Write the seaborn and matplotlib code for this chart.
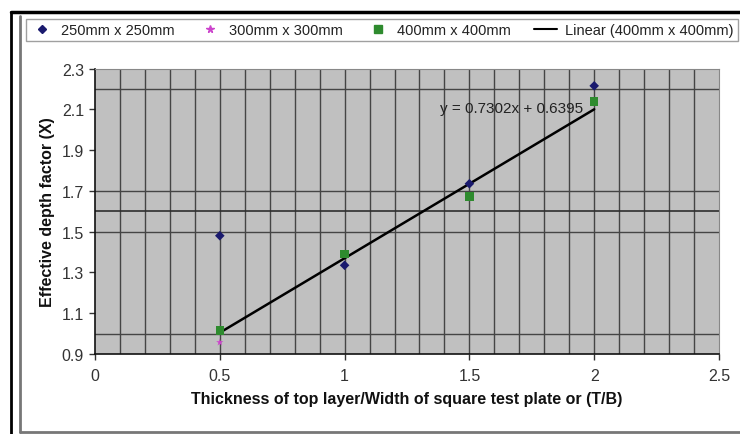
import matplotlib
matplotlib.use("Agg")
import matplotlib.pyplot as plt
from matplotlib.lines import Line2D
import seaborn as sns
import pandas as pd

# Thickness ratio T/B
x_250 = [0.5, 1.0, 1.5, 2.0]
y_250 = [1.48, 1.335, 1.735, 2.215]
x_300 = [0.5]
y_300 = [0.957]
x_400 = [0.5, 1.0, 1.5, 2.0]
y_400 = [1.015, 1.39, 1.672, 2.138]

# Linear trend for 400mm x 400mm plate
slope = 0.7302
intercept = 0.6395
fit_x = [0.5, 2.0]

series_labels = ["250mm x 250mm", "300mm x 300mm", "400mm x 400mm",
                 "Linear (400mm x 400mm)"]
x_ticks = [0, 0.5, 1, 1.5, 2, 2.5]
x_tick_labels = ["0", "0.5", "1", "1.5", "2", "2.5"]
y_ticks = [0.9, 1.1, 1.3, 1.5, 1.7, 1.9, 2.1, 2.3]
y_tick_labels = ["0.9", "1.1", "1.3", "1.5", "1.7", "1.9", "2.1", "2.3"]
h_grid = [1.0, 1.5, 1.6, 1.7, 2.2]
v_grid = [i / 10 for i in range(1, 25)]

sns.set_theme(style="white")
plt.rcParams["font.family"] = ["Liberation Sans", "DejaVu Sans"]

fig = plt.figure(figsize=(7.4, 4.35), dpi=100)
W, H = 740, 435
ax = fig.add_axes([95 / W, 1 - 355 / H, (719 - 95) / W, (355 - 69.5) / H])
ax.set_facecolor("#c0c0c0")

for gx in v_grid:
    ax.axvline(gx, color="#454545", lw=1.0, zorder=1)
for gy in h_grid:
    ax.axhline(gy, color="#2e2e2e" if gy == 1.6 else "#454545",
               lw=1.2 if gy == 1.6 else 1.0, zorder=1)

fit_df = pd.DataFrame({"x": fit_x, "y": [slope * v + intercept for v in fit_x]})
sns.lineplot(data=fit_df, x="x", y="y", color="black", lw=1.8, ax=ax, zorder=3)

sns.scatterplot(x=x_250, y=y_250, marker="D", s=24, color="#1a1a6e",
                edgecolor="none", ax=ax, zorder=4)
sns.scatterplot(x=x_300, y=y_300, marker="*", s=30, color="#cc44cc",
                edgecolor="none", ax=ax, zorder=4)
sns.scatterplot(x=x_400, y=y_400, marker="s", s=38, color="#2e8b2e",
                edgecolor="none", ax=ax, zorder=4)

ax.text(1.955, 2.105, f"y = {slope}x + {intercept}", ha="right", va="center",
        fontsize=11, color="#222222", zorder=5)

ax.set_xlim(0, 2.5)
ax.set_ylim(0.9, 2.3)
ax.set_xticks(x_ticks)
ax.set_xticklabels(x_tick_labels)
ax.set_yticks(y_ticks)
ax.set_yticklabels(y_tick_labels)
ax.tick_params(axis="both", labelsize=11.5, colors="#333333", length=4,
               width=1, direction="out", bottom=True, left=True)
ax.tick_params(axis="x", pad=6)
ax.tick_params(axis="y", pad=4)
for side in ["top", "right"]:
    ax.spines[side].set_color("#888888")
    ax.spines[side].set_linewidth(0.8)
for side in ["bottom", "left"]:
    ax.spines[side].set_color("#111111")
    ax.spines[side].set_linewidth(1.2)

ax.set_xlabel("Thickness of top layer/Width of square test plate or (T/B)",
              fontsize=11.5, fontweight="bold", color="#111111", labelpad=6)
ax.set_ylabel("Effective depth factor (X)", fontsize=11.5, fontweight="bold",
              color="#111111", labelpad=5)

# Legend strip across the top
handles = [
    Line2D([], [], marker="D", color="#1a1a6e", ls="none", markersize=4.5),
    Line2D([], [], marker="*", color="#cc44cc", ls="none", markersize=5.5),
    Line2D([], [], marker="s", color="#2e8b2e", ls="none", markersize=5.5),
    Line2D([], [], color="black", lw=1.5),
]
leg = fig.legend(handles, series_labels, ncol=4, loc="center",
                 bbox_to_anchor=((26 + 738) / 2 / W, 1 - 31 / H),
                 fontsize=10.5, frameon=True, fancybox=False,
                 edgecolor="#888888", handlelength=1.6, handletextpad=0.5,
                 columnspacing=1.6, borderpad=0.3)
leg.get_frame().set_linewidth(1.0)
leg.get_frame().set_facecolor("white")
for t in leg.get_texts():
    t.set_color("#222222")

# Outer chart border
fig.add_artist(Line2D([11 / W, 11 / W], [0, 1 - 13 / H], color="black",
                      lw=2, transform=fig.transFigure))
fig.add_artist(Line2D([11 / W, 1], [1 - 13 / H, 1 - 13 / H], color="black",
                      lw=2.5, transform=fig.transFigure))
fig.add_artist(Line2D([20 / W, 20 / W], [1 - 433 / H, 1 - 17 / H],
                      color="#777777", lw=2, transform=fig.transFigure))
fig.add_artist(Line2D([20 / W, 1], [1 - 433 / H, 1 - 433 / H],
                      color="#777777", lw=2, transform=fig.transFigure))

fig.savefig("out.png", dpi=100, facecolor="white")
